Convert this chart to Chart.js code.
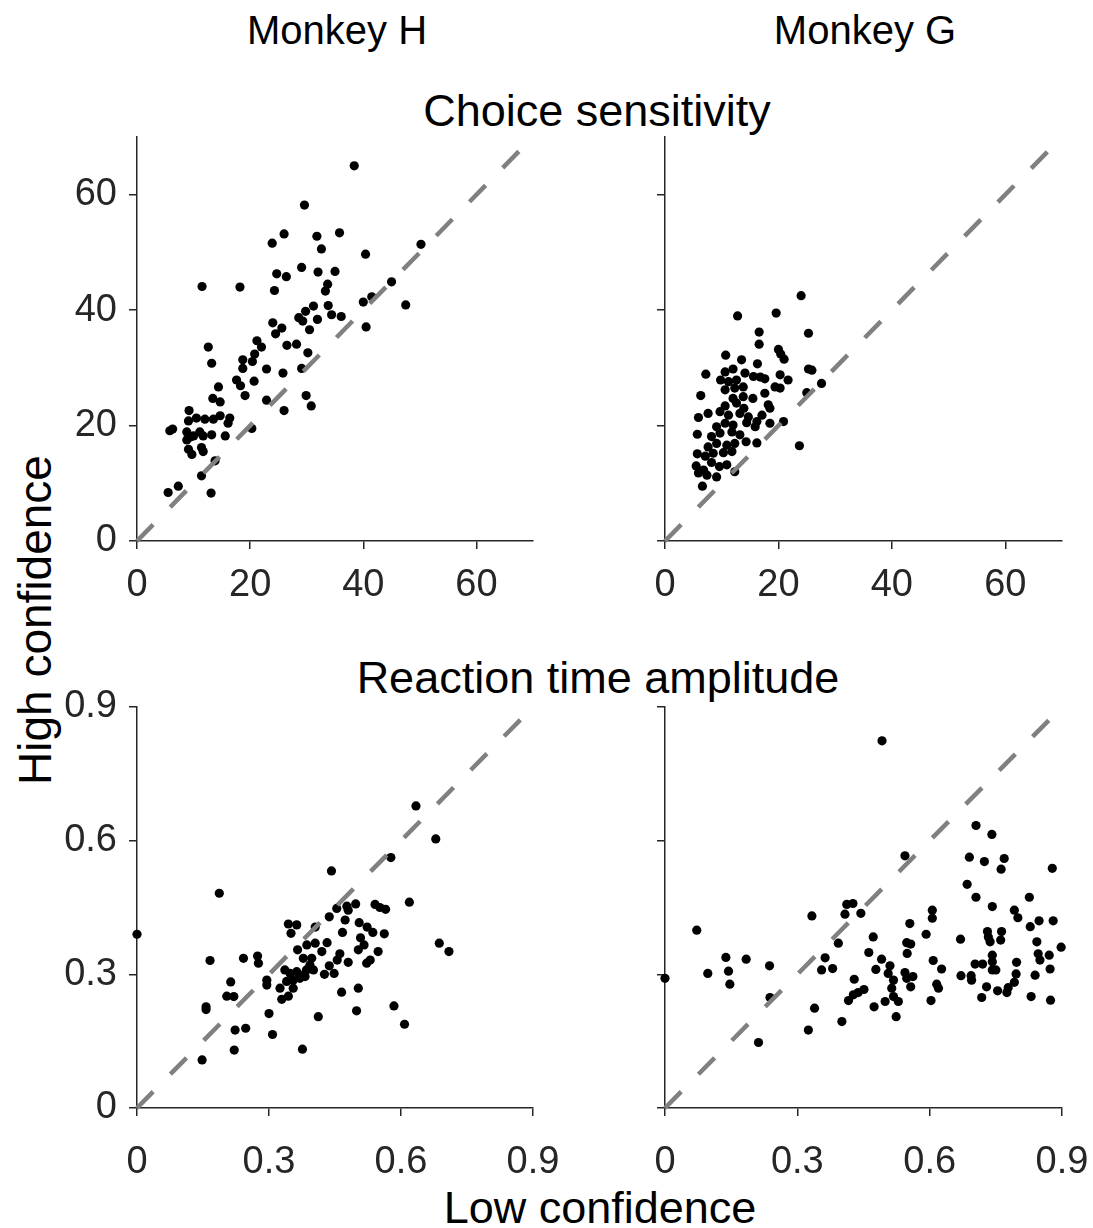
<!DOCTYPE html>
<html><head><meta charset="utf-8">
<script src="https://cdn.jsdelivr.net/npm/chart.js@4.4.1/dist/chart.umd.min.js"></script>
<style>
body{margin:0;background:#fff;width:1093px;height:1228px;position:relative;overflow:hidden;font-family:'Liberation Sans',Arial,sans-serif;}
.t{position:absolute;transform:translate(-50%,-50%);white-space:nowrap;color:#000;line-height:1;}
canvas{position:absolute;}
</style></head><body>
<div class="t" style="left:337px;top:30px;font-size:40px">Monkey H</div>
<div class="t" style="left:865px;top:30px;font-size:40px">Monkey G</div>
<div class="t" style="left:597px;top:110px;font-size:45px">Choice sensitivity</div>
<div class="t" style="left:598px;top:677px;font-size:45px">Reaction time amplitude</div>
<div class="t" style="left:35px;top:620px;font-size:46px;transform:translate(-50%,-50%) rotate(-90deg)">High confidence</div>
<div class="t" style="left:600px;top:1207px;font-size:45px">Low confidence</div>
<canvas id="c0"></canvas><canvas id="c1"></canvas><canvas id="c2"></canvas><canvas id="c3"></canvas>
<script>
// ---- data ----
const choiceTicks=[0,20,40,60];
const choiceTickLabels=['0','20','40','60'];
const choiceMax=70;
const rtTicks=[0,0.3,0.6,0.9];
const rtTickLabels=['0','0.3','0.6','0.9'];
const rtMax=0.9;

const choiceH_low=[38.4,29.6,26.0,23.9,31.8,35.8,32.6,40.4,50.2,18.2,24.3,24.7,26.4,29.1,32.0,35.0,33.7,33.3,33.8,31.2,29.8,28.6,29.3,31.9,34.4,36.1,40.0,41.5,45.0,47.5,40.5,30.5,24.0,25.6,24.5,21.2,22.0,26.5,28.2,30.2,20.8,18.7,20.4,18.7,22.9,25.8,29.1,17.6,18.3,20.7,19.1,22.9,29.9,30.8,26.0,14.4,13.4,14.7,11.5,12.6,13.2,9.2,9.1,10.5,12.0,13.5,14.7,16.4,16.1,5.8,6.3,8.8,10.0,11.1,11.7,13.2,15.6,8.8,9.4,9.1,9.7,11.4,11.7,13.8,11.4,20.3,7.3,5.5,13.1];
const choiceH_high=[65.0,58.2,53.2,51.6,52.8,53.4,50.6,49.7,51.4,44.0,43.4,46.3,45.8,47.4,46.6,46.7,44.5,43.3,40.8,40.7,39.8,38.7,38.1,38.4,39.2,38.9,41.4,42.3,44.9,40.9,37.1,36.6,37.8,36.9,35.9,34.7,33.6,33.9,34.1,32.6,32.4,31.4,31.1,29.9,29.8,29.1,29.9,27.9,26.9,27.7,25.2,24.4,25.2,23.4,22.6,26.7,24.7,24.1,44.1,33.6,30.8,22.6,20.8,21.3,21.1,21.1,21.7,21.3,20.4,19.1,19.4,18.9,18.2,18.9,18.2,18.4,18.2,17.5,18.0,15.9,15.0,16.2,15.5,13.9,11.3,19.5,9.5,8.4,8.3];

const choiceG_low=[24.0,12.8,19.6,16.6,25.3,16.6,20.0,20.4,21.0,10.7,13.5,16.3,25.3,25.9,7.2,10.6,12.0,14.1,15.6,16.8,17.6,20.3,21.7,27.6,9.8,11.2,12.6,10.6,12.3,13.8,19.4,20.3,25.0,6.3,12.0,13.8,15.5,17.6,10.6,12.6,13.9,18.2,18.5,7.6,5.9,9.7,11.2,13.2,14.7,17.1,9.1,10.6,12.0,14.4,16.2,15.9,18.5,20.9,5.7,8.2,9.7,11.8,13.2,14.3,16.2,23.7,7.6,9.1,10.9,12.3,5.7,7.1,8.5,10.3,11.8,5.5,6.8,8.2,9.6,10.9,5.9,7.4,9.1,12.3,6.6];
const choiceG_high=[42.5,39.0,39.5,36.2,36.0,34.1,33.2,32.4,31.5,32.2,31.4,30.7,29.8,29.6,28.9,29.3,29.8,29.1,28.5,28.4,28.1,28.8,27.9,27.3,27.9,27.6,27.9,26.2,26.5,26.7,26.7,26.5,25.7,25.2,24.7,25.0,24.7,25.6,23.4,23.9,23.0,23.6,23.0,22.1,21.4,22.4,21.8,22.1,21.5,21.8,19.8,20.4,20.1,20.5,20.7,19.8,20.4,20.7,18.5,18.1,18.7,18.9,18.4,17.2,17.0,16.5,16.3,16.9,16.6,16.9,15.1,14.7,15.2,15.3,15.5,13.0,12.3,13.6,12.9,13.2,11.8,11.4,11.1,12.0,9.5];

const rtH_low=[0.000,0.187,0.166,0.242,0.274,0.276,0.213,0.204,0.220,0.295,0.295,0.157,0.157,0.300,0.223,0.247,0.308,0.221,0.376,0.148,0.344,0.363,0.350,0.325,0.329,0.344,0.336,0.348,0.363,0.355,0.370,0.378,0.385,0.340,0.355,0.365,0.378,0.386,0.634,0.679,0.577,0.442,0.619,0.687,0.709,0.454,0.477,0.480,0.497,0.437,0.541,0.552,0.565,0.473,0.505,0.523,0.536,0.562,0.467,0.405,0.508,0.516,0.503,0.548,0.432,0.420,0.405,0.397,0.461,0.455,0.480,0.522,0.530,0.437,0.426,0.448,0.393,0.401,0.382,0.465,0.503,0.412,0.499,0.584,0.608];
const rtH_high=[0.390,0.482,0.331,0.336,0.341,0.325,0.283,0.251,0.250,0.287,0.276,0.227,0.221,0.212,0.175,0.179,0.165,0.130,0.132,0.108,0.413,0.411,0.392,0.269,0.244,0.251,0.310,0.302,0.306,0.287,0.291,0.298,0.310,0.284,0.269,0.355,0.336,0.366,0.678,0.604,0.562,0.532,0.462,0.370,0.351,0.448,0.453,0.444,0.458,0.429,0.457,0.450,0.446,0.422,0.416,0.406,0.394,0.391,0.394,0.406,0.382,0.366,0.355,0.351,0.371,0.351,0.370,0.336,0.346,0.332,0.327,0.325,0.332,0.319,0.300,0.302,0.321,0.310,0.295,0.260,0.269,0.205,0.218,0.229,0.188];

const rtG_low=[0.000,0.072,0.097,0.138,0.144,0.147,0.184,0.237,0.238,0.212,0.333,0.363,0.355,0.380,0.393,0.412,0.426,0.408,0.444,0.339,0.325,0.401,0.429,0.451,0.438,0.416,0.427,0.472,0.462,0.478,0.474,0.491,0.492,0.705,0.741,0.544,0.690,0.724,0.769,0.762,0.878,0.685,0.705,0.826,0.742,0.792,0.800,0.606,0.606,0.555,0.848,0.880,0.828,0.592,0.670,0.731,0.733,0.737,0.763,0.761,0.843,0.898,0.548,0.557,0.549,0.846,0.850,0.871,0.742,0.742,0.742,0.750,0.703,0.720,0.797,0.608,0.627,0.510,0.506,0.518,0.514,0.518,0.529,0.544,0.548,0.562,0.557,0.616,0.620,0.671,0.694,0.695,0.796,0.792,0.839,0.873,0.729,0.754,0.775,0.778,0.718,0.830,0.874,0.499,0.524,0.603];
const rtG_high=[0.291,0.399,0.302,0.338,0.307,0.278,0.334,0.319,0.248,0.147,0.431,0.337,0.310,0.313,0.370,0.457,0.459,0.435,0.437,0.224,0.175,0.194,0.289,0.266,0.259,0.241,0.254,0.384,0.349,0.311,0.227,0.334,0.824,0.634,0.614,0.566,0.563,0.553,0.560,0.536,0.538,0.502,0.473,0.473,0.452,0.444,0.427,0.444,0.426,0.414,0.420,0.420,0.407,0.390,0.379,0.396,0.384,0.373,0.396,0.377,0.373,0.361,0.371,0.368,0.347,0.346,0.332,0.343,0.343,0.328,0.310,0.310,0.323,0.323,0.327,0.331,0.312,0.319,0.302,0.287,0.269,0.250,0.239,0.304,0.291,0.295,0.272,0.278,0.269,0.297,0.297,0.287,0.301,0.282,0.298,0.312,0.272,0.263,0.259,0.270,0.248,0.250,0.242,0.239,0.205,0.241];

// ---- layout ----
const FONT="'Liberation Sans', Arial, sans-serif";
const AX='#262626';
const PL=100, PT=60, PR=80, PB=85;
const panels=[
  {id:'c0',box:[137,137,533,541],xs:choiceH_low,ys:choiceH_high,max:choiceMax,ticks:choiceTicks,labels:choiceTickLabels,xpad:14,yLabels:true},
  {id:'c1',box:[665,137,1062,541],xs:choiceG_low,ys:choiceG_high,max:choiceMax,ticks:choiceTicks,labels:choiceTickLabels,xpad:14,yLabels:false},
  {id:'c2',box:[137,707,533,1108],xs:rtH_low,ys:rtH_high,max:rtMax,ticks:rtTicks,labels:rtTickLabels,xpad:24,yLabels:true},
  {id:'c3',box:[665,707,1062,1108],xs:rtG_low,ys:rtG_high,max:rtMax,ticks:rtTicks,labels:rtTickLabels,xpad:24,yLabels:false}
];
function axis(p,isX){
  return {
    type:'linear',min:0,max:p.max,
    afterBuildTicks:(s)=>{s.ticks=p.ticks.map(v=>({value:v}));},
    afterFit:(s)=>{ if(isX) s.height=PB; else s.width=PL; },
    grid:{drawOnChartArea:false,drawTicks:true,tickLength:8,color:AX,lineWidth:1.5},
    border:{display:true,color:AX,width:1.5},
    ticks:{font:{family:FONT,size:38},color:AX,padding:isX?p.xpad:12,maxRotation:0,autoSkip:false,
      callback:(v,i)=>(isX||p.yLabels)?p.labels[i]:''}
  };
}
panels.forEach(p=>{
  const c=document.getElementById(p.id);
  const w=(p.box[2]-p.box[0])+PL+PR, h=(p.box[3]-p.box[1])+PT+PB;
  c.width=w;c.height=h;
  c.style.left=(p.box[0]-PL)+'px';c.style.top=(p.box[1]-PT)+'px';
  c.style.width=w+'px';c.style.height=h+'px';
  const pts=p.xs.map((x,i)=>({x:x,y:p.ys[i]}));
  new Chart(c,{
    type:'scatter',
    data:{datasets:[
      {data:[{x:0,y:0},{x:p.max,y:p.max}],showLine:true,borderColor:'#808080',borderWidth:4.5,borderDash:[23,24.5],pointRadius:0,clip:false,borderCapStyle:'butt'},
      {data:pts,pointRadius:4.6,pointBackgroundColor:'#000',pointBorderWidth:0,clip:false}
    ]},
    options:{
      responsive:false,devicePixelRatio:1,animation:false,
      layout:{padding:{left:0,top:PT,right:PR,bottom:0}},
      plugins:{legend:{display:false},tooltip:{enabled:false}},
      scales:{x:axis(p,true),y:axis(p,false)}
    }
  });
});
</script>
</body></html>
